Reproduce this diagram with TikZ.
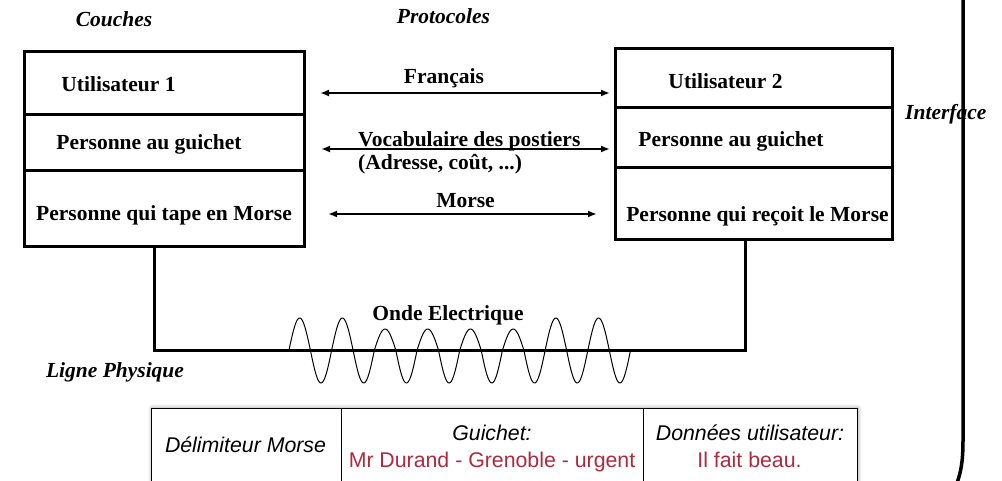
\documentclass[tikz,border=0pt]{standalone}
\usepackage{fontspec}
\setmainfont{Liberation Serif}
\setsansfont{Liberation Sans}
\usetikzlibrary{arrows.meta,shadows.blur}
\definecolor{redtxt}{RGB}{172,44,62}
\begin{document}
\begin{tikzpicture}[x=1pt,y=-1pt,
  layerbox/.style={draw, line width=3pt, inner sep=0pt},
  bigtxt/.style={font=\fontsize{21.5}{24}\selectfont\bfseries, inner sep=0pt, anchor=base},
  ittxt/.style={font=\fontsize{21.5}{24}\selectfont\bfseries\itshape, inner sep=0pt, anchor=base},
  tabtxt/.style={font=\fontsize{21.3}{24}\selectfont\sffamily, inner sep=0pt, anchor=base},
  tabit/.style={tabtxt, font=\fontsize{21.3}{24}\selectfont\sffamily\itshape},
  proto/.style={line width=2pt, {Latex[length=9pt,width=7pt]}-{Latex[length=9pt,width=7pt]}},
  wire/.style={line width=3pt},
  wave/.style={line width=1pt, line join=round},
  cell/.style={draw, line width=0.9pt, inner sep=0pt, anchor=north west, minimum height=90pt}
]
\clip (0,0) rectangle (1002,481);

% ---- layer boxes, left
\node[layerbox, minimum width=280pt, minimum height=63pt] (L1) at (164,83.5) {};
\node[layerbox, minimum width=280pt, minimum height=56pt] (L2) at (164,143) {};
\node[layerbox, minimum width=280pt, minimum height=76pt] (L3) at (164,209) {};
% ---- layer boxes, right
\node[layerbox, minimum width=277pt, minimum height=59pt] (R1) at (753.5,78.5) {};
\node[layerbox, minimum width=277pt, minimum height=60pt] (R2) at (753.5,138) {};
\node[layerbox, minimum width=277pt, minimum height=72pt] (R3) at (753.5,204) {};

% ---- layer texts
\node[bigtxt] (tL1) at (118.5,92) {Utilisateur 1};
\node[bigtxt] (tL2) at (149,150) {Personne au guichet};
\node[bigtxt] (tL3) at (164,221) {Personne qui tape en Morse};
\node[bigtxt] (tR1) at (725.5,89) {Utilisateur 2};
\node[bigtxt] (tR2) at (731,146.5) {Personne au guichet};
\node[bigtxt] (tR3) at (757.5,222) {Personne qui reçoit le Morse};

% ---- titles
\node[ittxt] (couches) at (114,27) {Couches};
\node[ittxt] (protocoles) at (443.5,24) {Protocoles};
\node[ittxt, anchor=base west] (interface) at (905,120) {Interface};
\node[ittxt] (ligne) at (115,377) {Ligne Physique};

% ---- protocol arrows
\coordinate (fa) at (320,93);   \coordinate (fb) at (610,93);
\coordinate (va) at (321,149);  \coordinate (vb) at (610,149);
\coordinate (ma) at (328,214);  \coordinate (mb) at (597,214);
\draw[proto] (fa) -- (fb);
\draw[proto] (va) -- (vb);
\draw[proto] (ma) -- (mb);
\node[bigtxt] (francais) at (444,84) {Français};
\node[bigtxt, anchor=base west] (voc) at (358,147) {Vocabulaire des postiers};
\node[bigtxt, anchor=base west] (adr) at (358,170) {(Adresse, coût, ...)};
\node[bigtxt] (morse) at (465.5,208) {Morse};

% ---- physical line
\coordinate (wl) at (154,350);
\coordinate (wr) at (745,350);
\draw[wire] (L3.south -| wl) -- (wl) -- (wr) -- (R3.south -| wr);

% ---- wave
\draw[wave] (289,350)
  \foreach \A [count=\i from 0] in {32,-33,32,-33,21,-33,21,-33,21,-33,21,-33,32,-33,32,-33} {
    -- plot[domain=0:180, samples=24] ({289+21.35*\i+21.35*\x/180},{350-\A*sin(\x)})
  };
\node[bigtxt] (onde) at (448,320) {Onde Electrique};

% ---- interface line
\draw[line width=3.5pt] (963,-5) -- (963,440) .. controls (963,462) and (961,472) .. (956,486);

% ---- frame table
\fill[white, blur shadow={shadow xshift=1pt, shadow yshift=0pt, shadow blur radius=4pt, shadow opacity=40}]
  (151,408) rectangle (857,500);
\node[cell, minimum width=190pt] (c1) at (151,408) {};
\node[cell, minimum width=302pt] (c2) at (341,408) {};
\node[cell, minimum width=214pt] (c3) at (643,408) {};
\node[tabit] (d1) at (245.5,452) {Délimiteur Morse};
\node[tabit] (g1) at (492,440) {Guichet:};
\node[tabtxt, text=redtxt] (g2) at (492,467.5) {Mr Durand - Grenoble - urgent};
\node[tabit] (u1) at (750,440) {Données utilisateur:};
\node[tabtxt, text=redtxt] (u2) at (749.5,467.5) {Il fait beau.};
\end{tikzpicture}
\end{document}
